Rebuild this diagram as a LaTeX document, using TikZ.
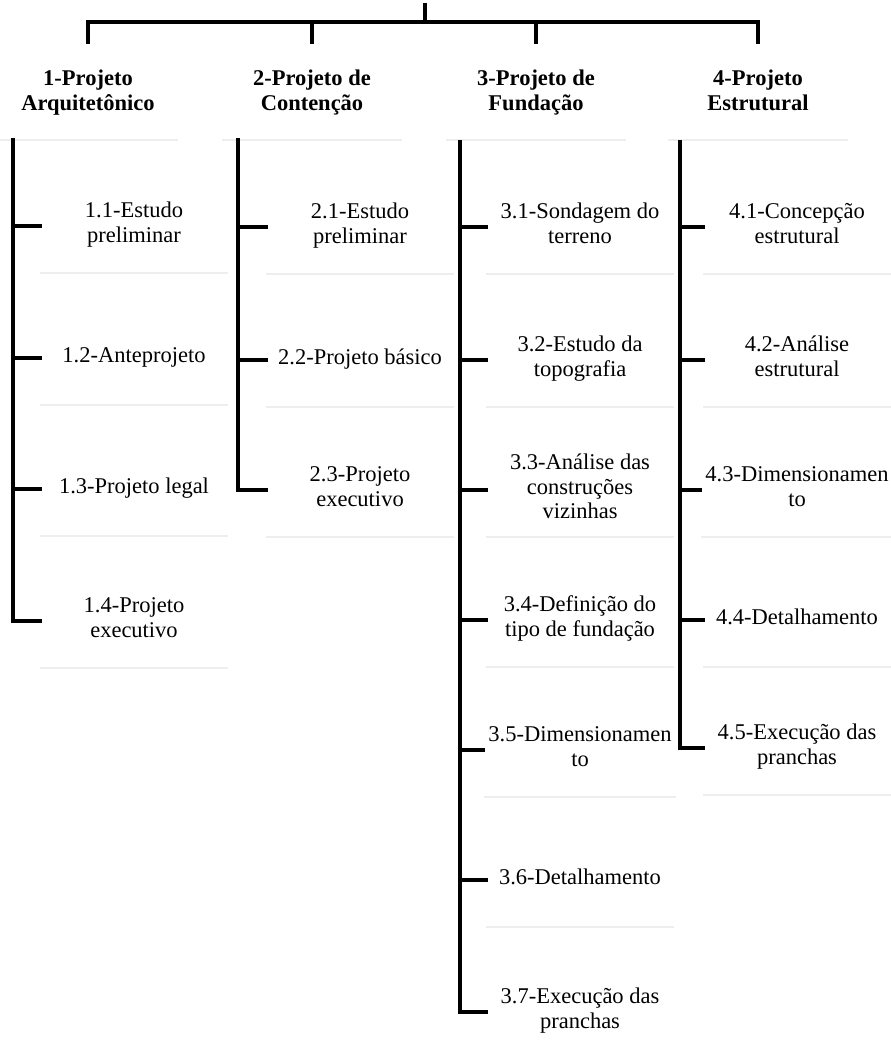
\documentclass[tikz,border=0pt]{standalone}
\usepackage{fontspec}
\setmainfont{Liberation Serif}
\begin{document}
\begin{tikzpicture}[
        x=0.025cm, y=-0.025cm,
        tree/.style={line width=2.6pt, line cap=rect},
        faint/.style={draw=gray!13, line width=1.4pt},
        underline/.style={path picture={\draw[faint] (path picture bounding box.south west) -- (path picture bounding box.south east);}},
        head/.style={align=center, underline, font=\fontsize{16}{17.5}\selectfont\bfseries, minimum width=4.5cm, minimum height=2.3cm,
            execute at begin node=\strut, execute at end node=\strut},
        item/.style={align=center, underline, font=\fontsize{16}{17.5}\selectfont, minimum width=4.7cm, minimum height=2.35cm,
            execute at begin node=\strut, execute at end node=\strut}
    ]
        \useasboundingbox (0,0) rectangle (891,1057);

        \node[head] (h1) at (88,94) {1-Projeto\\Arquitetônico};
        \node[head] (h2) at (312,94) {2-Projeto de\\Contenção};
        \node[head] (h3) at (536,94) {3-Projeto de\\Fundação};
        \node[head] (h4) at (758,94) {4-Projeto\\Estrutural};

        \coordinate (root) at (425,5);
        \coordinate (bar) at (425,22);
        \draw[tree] (root) -- (bar);
        \draw[tree] (h1.north |- 0,42) -- (h1.north |- bar) -- (h4.north |- bar) -- (h4.north |- 0,42);
        \draw[tree] (h2.north |- bar) -- (h2.north |- 0,42);
        \draw[tree] (h3.north |- bar) -- (h3.north |- 0,42);

        % Arquitetonico
        \node[item] (c11) at (134,226) {1.1-Estudo\\preliminar};
        \node[item] (c12) at (134,358) {1.2-Anteprojeto};
        \node[item] (c13) at (134,489) {1.3-Projeto legal};
        \node[item] (c14) at (134,621) {1.4-Projeto\\executivo};

        % Contencao
        \node[item] (c21) at (360,227) {2.1-Estudo\\preliminar};
        \node[item] (c22) at (360,360) {2.2-Projeto básico};
        \node[item] (c23) at (360,490) {2.3-Projeto\\executivo};

        % Fundacao
        \node[item] (c31) at (580,227) {3.1-Sondagem do\\terreno};
        \node[item] (c32) at (580,360) {3.2-Estudo da\\topografia};
        \node[item] (c33) at (580,490) {3.3-Análise das\\construções\\vizinhas};
        \node[item] (c34) at (580,620) {3.4-Definição do\\tipo de fundação};
        \node[item] (c35) at (580,750) {3.5-Dimensionamen\\to};
        \node[item] (c36) at (580,880) {3.6-Detalhamento};
        \node[item] (c37) at (580,1012) {3.7-Execução das\\pranchas};

        % Estrutural
        \node[item] (c41) at (797,227) {4.1-Concepção\\estrutural};
        \node[item] (c42) at (797,360) {4.2-Análise\\estrutural};
        \node[item] (c43) at (797,490) {4.3-Dimensionamen\\to};
        \node[item] (c44) at (797,620) {4.4-Detalhamento};
        \node[item] (c45) at (797,748) {4.5-Execução das\\pranchas};

        \coordinate (s1) at (13,140);
        \coordinate (s2) at (238,140);
        \coordinate (s3) at (460,142);
        \coordinate (s4) at (680,142);

        \draw[tree] (s1) |- (c14.west);
        \foreach \n in {c11,c12,c13} \draw[tree] (s1 |- \n.west) -- (\n.west);
        \draw[tree] (s2) |- (c23.west);
        \foreach \n in {c21,c22} \draw[tree] (s2 |- \n.west) -- (\n.west);
        \draw[tree] (s3) |- (c37.west);
        \foreach \n in {c31,c32,c33,c34,c35,c36} \draw[tree] (s3 |- \n.west) -- (\n.west);
        \draw[tree] (s4) |- (c45.west);
        \foreach \n in {c41,c42,c43,c44} \draw[tree] (s4 |- \n.west) -- (\n.west);
    \end{tikzpicture}
\end{document}
